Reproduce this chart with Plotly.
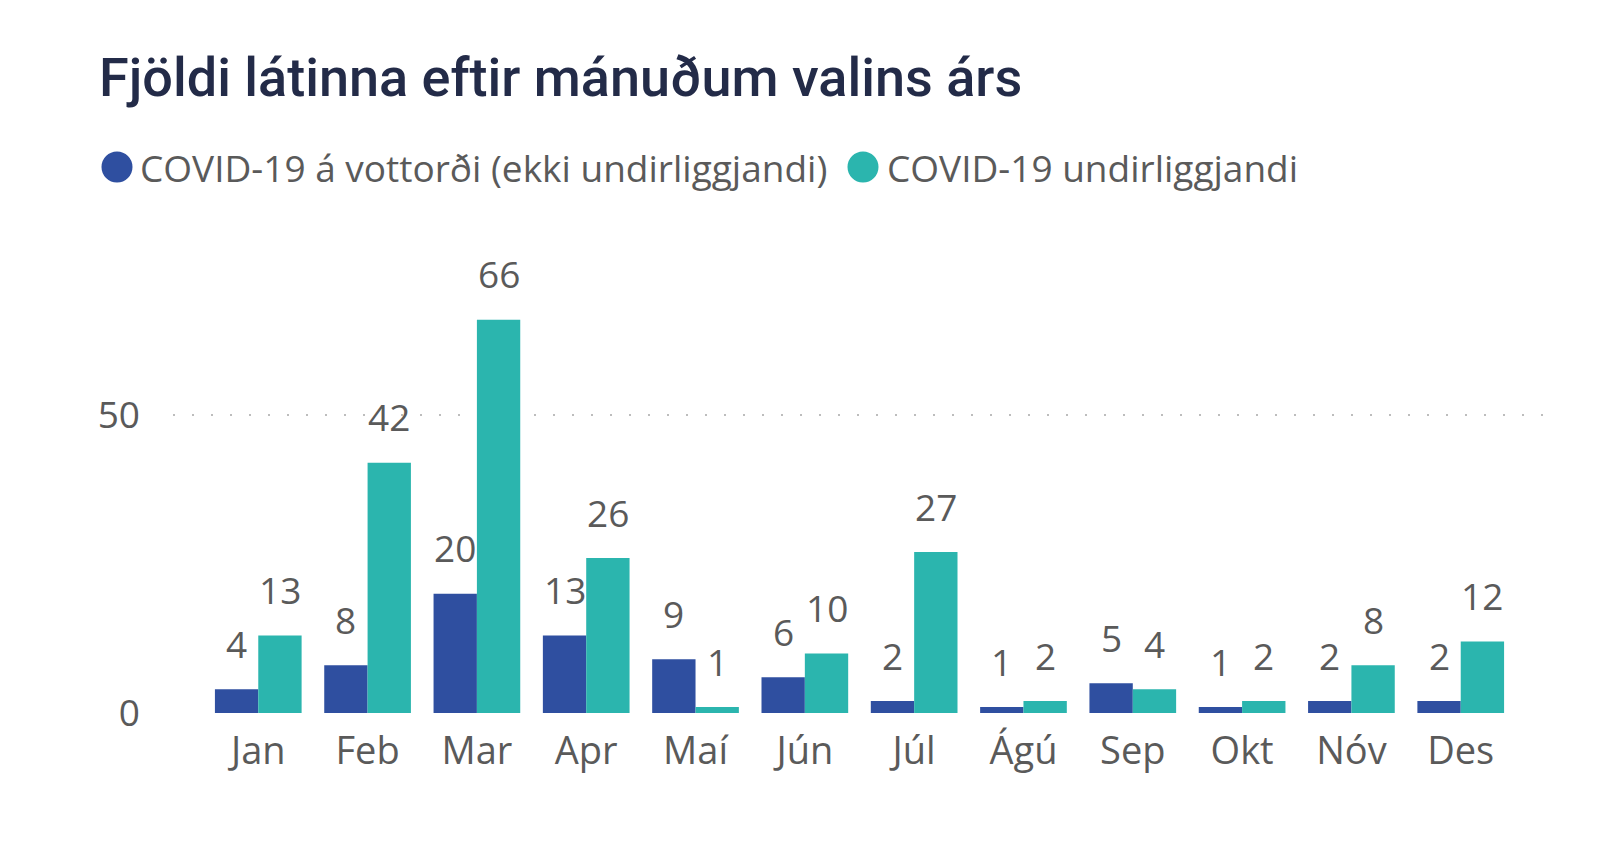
import plotly.graph_objects as go

months = ["Jan", "Feb", "Mar", "Apr", "Maí", "Jún", "Júl", "Ágú", "Sep", "Okt", "Nóv", "Des"]
series_a_name = "COVID-19 á vottorði (ekki undirliggjandi)"
series_b_name = "COVID-19 undirliggjandi"
series_a = [4, 8, 20, 13, 9, 6, 2, 1, 5, 1, 2, 2]
series_b = [13, 42, 66, 26, 1, 10, 27, 2, 4, 2, 8, 12]
y_ticks = [0, 50]

color_a = "#2F4FA0"
color_b = "#2BB5AE"
text_gray = "#5A5A5A"
font_fam = "Open Sans, Noto Sans, sans-serif"

# plot area in pixels
W, H = 1600, 852
L, R, T, B = 173, 54, 266, 139
pw, ph = W - L - R, H - T - B


def px_x(x):
    return (x - L) / pw


def px_y(y):
    return (H - B - y) / ph


fig = go.Figure()
fig.add_trace(go.Bar(x=months, y=series_a, name=series_a_name, marker_color=color_a,
                     marker_line_width=0, showlegend=False))
fig.add_trace(go.Bar(x=months, y=series_b, name=series_b_name, marker_color=color_b,
                     marker_line_width=0, showlegend=False))

bargap = 0.207
half = (1 - bargap) / 4
annotations = []
for i, (a, b) in enumerate(zip(series_a, series_b)):
    for off, v in ((-half, a), (half, b)):
        annotations.append(dict(x=i + off, y=v, xref="x", yref="y", text=str(v),
                                showarrow=False, yanchor="middle", yshift=46,
                                font=dict(size=37, color=text_gray, family=font_fam)))

# legend: circle markers + text
shapes = []
legend_items = [(series_a_name, color_a, 117, 138), (series_b_name, color_b, 863, 885)]
for name, col, cx, tx in legend_items:
    shapes.append(dict(type="circle", xref="paper", yref="paper",
                       xsizemode="pixel", ysizemode="pixel",
                       xanchor=px_x(cx), yanchor=px_y(167),
                       x0=-15.5, x1=15.5, y0=-15.5, y1=15.5,
                       fillcolor=col, line_width=0))
    annotations.append(dict(x=px_x(tx), y=px_y(167), xref="paper", yref="paper",
                            text=name, showarrow=False, xanchor="left", yanchor="middle",
                            font=dict(size=37, color=text_gray, family=font_fam)))

fig.update_layout(
    width=W, height=H,
    margin=dict(l=L, r=R, t=T, b=B),
    plot_bgcolor="white", paper_bgcolor="white",
    barmode="group", bargap=bargap, bargroupgap=0,
    title=dict(text="Fjöldi látinna eftir mánuðum valins árs",
               x=99 / W, xanchor="left", xref="container",
               y=1 - 77 / H, yanchor="middle", yref="container",
               font=dict(size=54, color="#232B48", family="Roboto, sans-serif", weight=500)),
    xaxis=dict(range=[-0.78, 11.78], showgrid=False, zeroline=False, showline=False,
               tickfont=dict(size=38, color=text_gray, family=font_fam),
               ticks="", ticklabelstandoff=12),
    yaxis=dict(range=[0, 75], tickvals=y_ticks, showgrid=True, gridcolor="#BDBDBD",
               griddash="2px,17px", gridwidth=2, zeroline=False, showline=False,
               tickfont=dict(size=37, color=text_gray, family=font_fam),
               ticks="", ticklabelstandoff=32),
    annotations=annotations,
    shapes=shapes,
)

fig.write_html("out.html")
